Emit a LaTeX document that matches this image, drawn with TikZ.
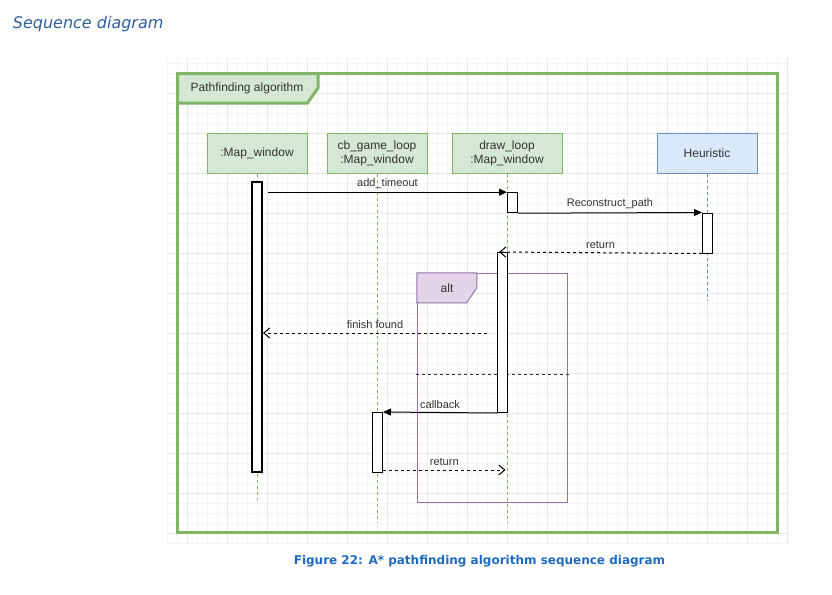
\documentclass[tikz,border=0pt]{standalone}
\usepackage{fontspec}
\setmainfont{Liberation Sans}
\newfontfamily\djv{DejaVu Sans}
\usetikzlibrary{arrows.meta}
\definecolor{grn}{HTML}{82B366}
\definecolor{grnfill}{HTML}{D5E8D4}
\definecolor{blu}{HTML}{6C8EBF}
\definecolor{blufill}{HTML}{DAE8FC}
\definecolor{pur}{HTML}{9673A6}
\definecolor{purfill}{HTML}{E1D5E7}
\definecolor{txt}{HTML}{333333}
\definecolor{ttlblue}{HTML}{2E5E9E}
\definecolor{capblue}{HTML}{1F6BC4}
\definecolor{gminor}{HTML}{F4F4F4}
\definecolor{gmajor}{HTML}{E8E8E8}
\tikzset{
  minorgrid/.style={draw=gminor, line width=0.8pt},
  majorgrid/.style={draw=gmajor, line width=0.8pt},
  head/.style={draw=grn, fill=grnfill, line width=1pt, minimum width=100pt, minimum height=40pt,
    inner sep=0pt, align=center, text=txt, font=\fontsize{12}{14}\selectfont},
  bluehead/.style={head, draw=blu, fill=blufill},
  life/.style={draw=grn, line width=0.8pt, dash pattern=on 3pt off 3pt},
  bluelife/.style={life, draw=blu},
  bar/.style={draw=black, fill=white, line width=1pt, minimum width=10pt, inner sep=0pt},
  thickbar/.style={bar, line width=2pt},
  msg/.style={draw=black, line width=1pt, -{Triangle[length=8pt,width=7pt]}},
  ret/.style={draw=black, line width=1pt, dash pattern=on 3pt off 3pt, -{Straight Barb[length=6pt,width=10pt]}},
  lbl/.style={text=txt, font=\fontsize{11}{13}\selectfont, inner sep=2pt, above=1.5pt},
  sepline/.style={draw=black!80, line width=1pt, dash pattern=on 3pt off 3pt},
}
\begin{document}
\begin{tikzpicture}[x=1pt,y=-1pt]
\useasboundingbox (0,0) rectangle (832,594);
% background grid
\foreach \x in {167,177,...,787} \draw[minorgrid] (\x,58) -- (\x,545);
\foreach \y in {63,73,...,543} \draw[minorgrid] (168,\y) -- (789,\y);
\foreach \x in {187,227,...,787} \draw[majorgrid] (\x,58) -- (\x,545);
\foreach \y in {93,133,...,533} \draw[majorgrid] (168,\y) -- (789,\y);

% title and caption
\node[anchor=base west, inner sep=0pt, text=ttlblue, font=\djv\itshape\fontsize{16}{19}\selectfont] (title) at (12.7,28.5) {Sequence diagram};
\node[inner sep=0pt, text=capblue, font=\djv\bfseries\fontsize{12}{14}\selectfont] (caption) at (479.5,561.5) {Figure 22: A* pathfinding algorithm sequence diagram};

% outer frame
\draw[grn, line width=3pt] (177.5,73.5) rectangle (777,532);
\draw[grn, fill=grnfill, line width=3pt, line join=miter] (177.5,73.5) -- (318,73.5) -- (318,88) -- (307.5,103) -- (177.5,103) -- cycle;
\node[text=txt, font=\fontsize{12}{14}\selectfont] (frametitle) at (247,88) {Pathfinding algorithm};

% lifeline heads
\node[head] (L1) at (257,153) {:Map\_window};
\node[head] (L2) at (377,153) {cb\_game\_loop\\:Map\_window};
\node[head, minimum width=110pt] (L3) at (507,153) {draw\_loop\\:Map\_window};
\node[bluehead] (L4) at (707,153) {Heuristic};

% lifelines
\coordinate (e1) at (257,500);
\coordinate (e2) at (377,523);
\coordinate (e3) at (507,523);
\coordinate (e4) at (707,300);
\draw[life] (L1.south) -- (e1);
\draw[life] (L2.south) -- (e2);
\draw[life] (L3.south) -- (e3);
\draw[bluelife] (L4.south) -- (e4);

% alt fragment
\node[draw=pur, line width=1pt, minimum width=150pt, minimum height=229.5pt, inner sep=0pt] (alt) at (492.3,388) {};
\draw[draw=pur, fill=purfill, line width=1pt] (alt.north west) -- ++(60,0) -- ++(0,15) -- ++(-10,15) -- ++(-50,0) -- cycle;
\node[text=txt, font=\fontsize{12}{14}\selectfont] (altlbl) at (447,288) {alt};
\coordinate (s1) at (416,374);
\coordinate (s2) at (570,374);
\draw[sepline] (s1) -- (s2);

% activation bars
\node[thickbar, minimum height=290pt] (b1) at (257,327.4) {};
\node[bar, minimum height=20pt] (b2) at (512.5,202.7) {};
\node[bar, minimum height=40pt] (b3) at (707.5,233) {};
\node[bar, minimum height=160pt] (b4) at (502.5,332.5) {};
\node[bar, minimum height=60pt] (b5) at (377.5,442.5) {};

% messages
\draw[msg] ([xshift=5pt]b1.east |- b2.north) -- (b2.north west) node[lbl, midway] {add\_timeout};
\draw[msg] (b2.south east) -- (b3.north west) node[lbl, midway] {Reconstruct\_path};
\draw[ret] (b3.south west) -- ([xshift=2pt]b4.north west) node[lbl, midway] {return};
\coordinate (ff) at (487,333);
\draw[ret] (ff) -- (b1.east |- ff) node[lbl, midway] {finish found};
\draw[msg] (b4.south west) -- (b5.north east) node[lbl, midway] {callback};
\coordinate (rt) at (505.5,470);
\draw[ret] (b5.east |- rt) -- (rt) node[lbl, midway] {return};
\end{tikzpicture}
\end{document}
